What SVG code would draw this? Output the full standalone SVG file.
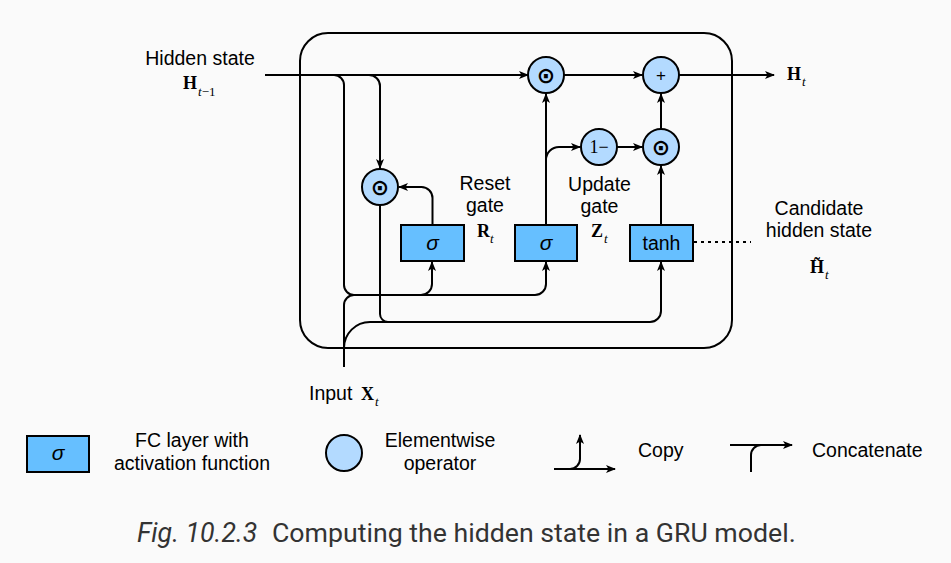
<svg xmlns="http://www.w3.org/2000/svg" width="951" height="563" viewBox="0 0 951 563">
<defs>
<marker id="arr" viewBox="0 0 10 8" refX="9" refY="4" markerWidth="10" markerHeight="8" markerUnits="userSpaceOnUse" orient="auto">
<path d="M0,0 L10,4 L0,8 L2.5,4 z" fill="#000"/>
</marker>
<style>
.ln{fill:none;stroke:#000;stroke-width:2}
.ar{marker-end:url(#arr)}
.box{fill:#66bfff;stroke:#000;stroke-width:2}
.op{fill:#b3daff;stroke:#000;stroke-width:2}
.sans{font-family:"Liberation Sans",Arial,sans-serif;font-size:19.5px;fill:#000}
.mid{text-anchor:middle}
.sig{font-family:"Liberation Sans",Arial,sans-serif;font-style:italic;font-size:21px;text-anchor:middle;fill:#000}
.bm{font-family:"Liberation Serif","Times New Roman",serif;font-weight:bold;font-size:18px;fill:#000}
.sub{font-family:"Liberation Serif","Times New Roman",serif;font-style:italic;font-size:13px;fill:#000}
.odot{font-family:"DejaVu Sans",sans-serif;font-weight:bold;font-size:22px;text-anchor:middle;fill:#000}
.cap{font-family:Roboto,"Liberation Sans",sans-serif;font-size:26.7px;fill:#333}
</style>
</defs>
<rect width="951" height="563" fill="#fafafa"/>

<g id="cell">
<rect x="300" y="33" width="432" height="315" rx="28" ry="28" class="ln"/>
</g>

<g id="connectors">
<path class="ln ar" d="M265,75 H528"/>
<path class="ln" d="M334,75 a10,10 0 0 1 10,10 V285 a10,10 0 0 0 10,10 H421 a11,11 0 0 0 11,-11"/>
<path class="ln ar" d="M432,284 V262"/>
<path class="ln" d="M354,295 H535 a11,11 0 0 0 11,-11"/>
<path class="ln ar" d="M546,284 V262"/>
<path class="ln" d="M344,367 V305 a10,10 0 0 1 10,-10"/>
<path class="ln" d="M344,348 a26,26 0 0 1 26,-26 H650 a11,11 0 0 0 11,-11"/>
<path class="ln ar" d="M661,311 V262"/>
<path class="ln" d="M380,205 V314 a8,8 0 0 0 8,8 H400"/>
<path class="ln ar" d="M369,75 a11,11 0 0 1 11,11 V168"/>
<path class="ln ar" d="M432.5,225 V198 a11,11 0 0 0 -11,-11 H399"/>
<path class="ln ar" d="M546,225 V94"/>
<path class="ln ar" d="M546,160 a13,13 0 0 1 13,-13 H580"/>
<path class="ln ar" d="M617,147 H642"/>
<path class="ln ar" d="M661,225 V166"/>
<path class="ln ar" d="M661,129 V94"/>
<path class="ln ar" d="M564,75 H642"/>
<path class="ln ar" d="M679,75 H774"/>
<path d="M694,242 H751" fill="none" stroke="#000" stroke-width="2" stroke-dasharray="3,4"/>
</g>

<g id="reset-mult">
<circle cx="380" cy="187" r="18" class="op"/>
<text x="380" y="195" class="odot">⊙</text>
</g>
<g id="update-mult">
<circle cx="546" cy="75" r="18" class="op"/>
<text x="546" y="83" class="odot">⊙</text>
</g>
<g id="one-minus">
<circle cx="599" cy="147" r="18" class="op"/>
<text x="599" y="153" font-family="'Liberation Serif','Times New Roman',serif" font-size="18" text-anchor="middle">1−</text>
</g>
<g id="cand-mult">
<circle cx="661" cy="147" r="18" class="op"/>
<text x="661" y="155" class="odot">⊙</text>
</g>
<g id="plus">
<circle cx="661" cy="75" r="18" class="op"/>
<text x="661" y="81" font-family="'Liberation Sans',Arial,sans-serif" font-size="17" text-anchor="middle">+</text>
</g>

<g id="reset-gate">
<rect x="401" y="225" width="63" height="36" class="box"/>
<text x="432.5" y="250" class="sig">σ</text>
</g>
<g id="update-gate">
<rect x="515" y="225" width="62" height="36" class="box"/>
<text x="546" y="250" class="sig">σ</text>
</g>
<g id="tanh-layer">
<rect x="630" y="225" width="63" height="36" class="box"/>
<text x="661.5" y="249.5" class="sans mid" font-size="19">tanh</text>
</g>

<g id="labels">
<text x="200" y="65" class="sans mid">Hidden state</text>
<text x="183" y="89" class="bm">H</text><text x="198" y="96" class="sub">t<tspan font-style="normal">−1</tspan></text>
<text x="787" y="80" class="bm">H</text><text x="802" y="86" class="sub">t</text>
<text x="485" y="190" class="sans mid">Reset</text>
<text x="485" y="212" class="sans mid">gate</text>
<text x="477" y="237" class="bm">R</text><text x="490" y="243" class="sub">t</text>
<text x="599.5" y="191" class="sans mid">Update</text>
<text x="599.5" y="213" class="sans mid">gate</text>
<text x="591" y="237" class="bm">Z</text><text x="604" y="243" class="sub">t</text>
<text x="819" y="215" class="sans mid">Candidate</text>
<text x="819" y="237" class="sans mid">hidden state</text>
<text x="810" y="273" class="bm">H̃</text>
<text x="825" y="279" class="sub">t</text>
<text x="309" y="400" class="sans">Input</text>
<text x="361" y="400" class="bm">X</text><text x="375" y="406" class="sub">t</text>
</g>

<g id="legend">
<g id="legend-fc">
<rect x="27" y="436" width="62" height="36" class="box"/>
<text x="58" y="460" class="sig">σ</text>
<text x="192" y="447" class="sans mid">FC layer with</text>
<text x="192" y="470" class="sans mid">activation function</text>
</g>
<g id="legend-op">
<circle cx="344" cy="453" r="18" class="op"/>
<text x="440" y="447" class="sans mid">Elementwise</text>
<text x="440" y="470" class="sans mid">operator</text>
</g>
<g id="legend-copy">
<path class="ln ar" d="M554,469 H615"/>
<path class="ln ar" d="M570,469 a10,10 0 0 0 10,-10 V435"/>
<text x="638" y="457" class="sans">Copy</text>
</g>
<g id="legend-concat">
<path class="ln ar" d="M730,445 H792"/>
<path class="ln" d="M751,472 V455 a10,10 0 0 1 10,-10"/>
<text x="812" y="457" class="sans">Concatenate</text>
</g>
</g>

<text x="137" y="542" class="cap"><tspan font-style="italic">Fig. 10.2.3</tspan><tspan x="272">Computing the hidden state in a GRU model.</tspan></text>
</svg>
